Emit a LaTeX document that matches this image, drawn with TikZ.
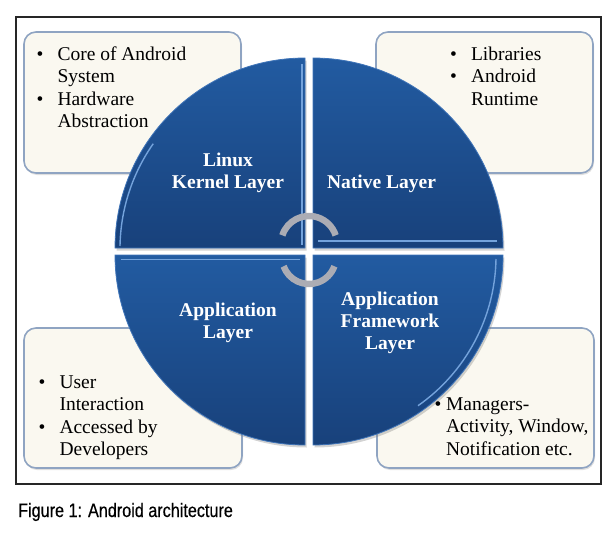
\documentclass[tikz,border=0pt]{standalone}
\usepackage{fontspec}
\setmainfont{Liberation Serif}
\newfontfamily\capfont[FakeStretch=0.83,FakeBold=0.4]{Liberation Sans}
\usetikzlibrary{shadows}
\definecolor{quadA}{HTML}{225BA1}
\definecolor{quadB}{HTML}{18417B}
\definecolor{quadEdge}{HTML}{3F74B8}
\definecolor{gleam}{HTML}{74A3DC}
\definecolor{boxFill}{HTML}{FAF8F0}
\definecolor{boxLine}{HTML}{8FA4C2}
\definecolor{cyc}{HTML}{ABACB4}
\tikzset{
  infobox/.style={draw=boxLine, line width=1.6pt, fill=boxFill, rounded corners=12pt,
    drop shadow={shadow xshift=1pt, shadow yshift=-2pt, opacity=0.25}},
  quad/.style={top color=quadA, bottom color=quadB, draw=quadEdge, line width=0.8pt,
    drop shadow={shadow xshift=1.5pt, shadow yshift=-2.5pt, opacity=0.35, fill=gray}},
  gleamline/.style={draw=gleam, line width=1.4pt},
  layertext/.style={text=white, font=\fontsize{19.5}{22}\selectfont\bfseries, inner sep=0pt, anchor=base},
  bullettext/.style={text=black, font=\fontsize{19.5}{22.6}\selectfont, inner sep=0pt, anchor=base west},
  cycarc/.style={draw=cyc, line width=6.5pt},
}
\newcommand{\blist}[2][14pt]{\begin{tabular}[t]{@{}l@{\hspace{#1}}l@{}}#2\end{tabular}}
\begin{document}
\begin{tikzpicture}[x=1pt,y=-1pt]
\useasboundingbox (0,0) rectangle (611,533);
% frame
\node[draw=black!85, line width=1.2pt, minimum width=585pt, minimum height=467pt, inner sep=0pt] (frame) at (308.5,250.5) {};
% info boxes
\node[infobox, minimum width=217pt, minimum height=141pt] (b1) at (132.5,102.5) {};
\node[infobox, minimum width=217pt, minimum height=141pt] (b2) at (484.5,102.5) {};
\node[infobox, minimum width=218pt, minimum height=140pt] (b3) at (133,398) {};
\node[infobox, minimum width=217pt, minimum height=140pt] (b4) at (485.5,398) {};
% quadrants
\path[quad] (305,248) -- (115,248) arc[start angle=180, end angle=270, radius=190] -- cycle;
\path[quad] (313,248) -- (313,58) arc[start angle=270, end angle=360, radius=190] -- cycle;
\path[quad] (313,255) -- (503,255) arc[start angle=0, end angle=90, radius=190] -- cycle;
\path[quad] (305,255) -- (305,445) arc[start angle=90, end angle=180, radius=190] -- cycle;
% gleam lines
\draw[gleamline] (120,248) ++(0,-2) arc[start angle=181, end angle=215, radius=184];
\draw[gleamline] (302,64) -- (302,245);
\draw[gleamline] (318,241) -- (497,241);
\draw[gleamline] (313,255) ++(183,4) arc[start angle=1, end angle=55, radius=183];
\draw[gleamline] (121,259.5) -- (300,259.5);
% layer labels
\node[layertext] (t1) at (228,166) {\begin{tabular}[t]{@{}c@{}}Linux\\Kernel Layer\end{tabular}};
\node[layertext] (t2) at (381.5,188) {Native Layer};
\node[layertext] (t3) at (228,316) {\begin{tabular}[t]{@{}c@{}}Application\\Layer\end{tabular}};
\node[layertext] (t4) at (390,305) {\begin{tabular}[t]{@{}c@{}}Application\\Framework\\Layer\end{tabular}};
% cycle arcs
\coordinate (c1) at (309,244);
\coordinate (c2) at (309,257);
\draw[cycarc] ([shift={(198:28)}]c1) arc[start angle=198, end angle=342, radius=28];
\draw[cycarc] ([shift={(160:27)}]c2) arc[start angle=160, end angle=20, radius=27];
% bullet texts
\node[bullettext] (l1) at (36.5,60) {\blist{\textbullet & Core of Android\\ & System\\ \textbullet & Hardware\\ & Abstraction}};
\node[bullettext] (l2) at (450,60) {\blist{\textbullet & Libraries\\ \textbullet & Android\\ & Runtime}};
\node[bullettext] (l3) at (38.5,388) {\blist{\textbullet & User\\ & Interaction\\ \textbullet & Accessed by\\ & Developers}};
\node[bullettext] (l4) at (434.5,410) {\blist[4.5pt]{\textbullet & Managers-\\ & Activity, Window,\\ & Notification etc.}};
% caption
\node[anchor=base west, inner sep=0pt, font=\capfont\fontsize{19.5}{22}\selectfont] (cap) at (18,517) {Figure 1: Android architecture};
\end{tikzpicture}
\end{document}
